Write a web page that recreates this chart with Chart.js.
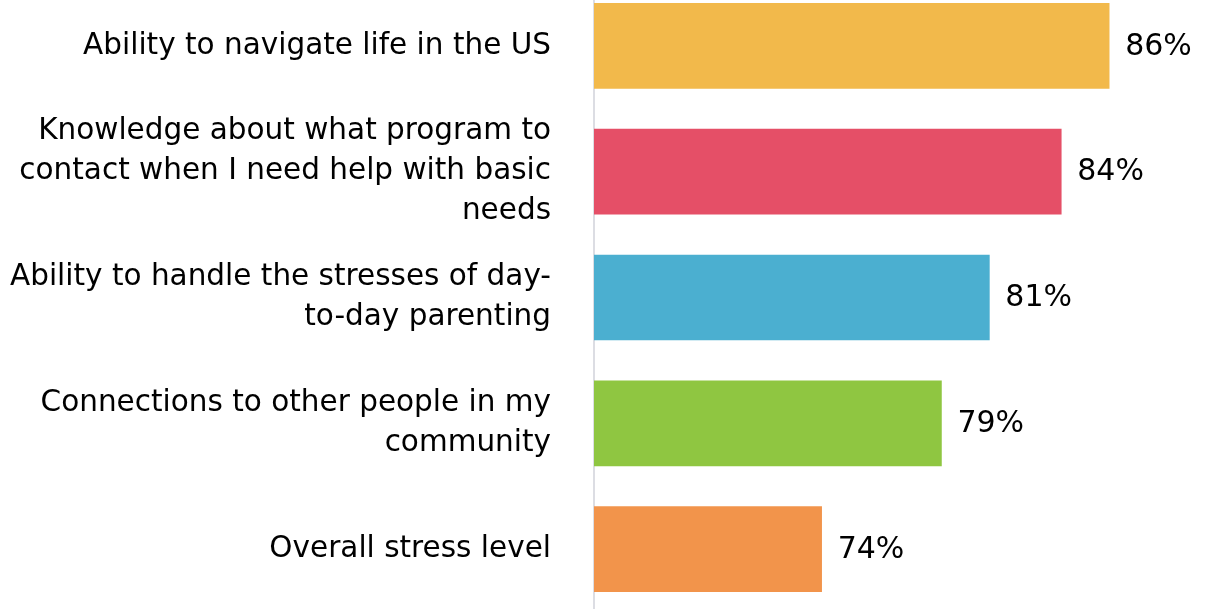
<!DOCTYPE html>
<html>
<head>
<meta charset="utf-8">
<script src="https://cdn.jsdelivr.net/npm/chart.js@4"></script>
<style>
  html, body { margin: 0; padding: 0; background: #fff; overflow: hidden; }
  #wrap { position: relative; width: 1205px; height: 629px; margin-top: -17px; }
</style>
</head>
<body>
<div id="wrap"><canvas id="myChart"></canvas></div>
<script>
// chart data
let categories = [
    ['Ability to navigate life in the US'],
    ['Knowledge about what program to', 'contact when I need help with basic', 'needs'],
    ['Ability to handle the stresses of day-', 'to-day parenting'],
    ['Connections to other people in my', 'community'],
    ['Overall stress level']
];
let percentValues = [86, 84, 81, 79, 74];
let barColors = ['#F2B94B', '#E54F67', '#4BAFD0', '#8FC641', '#F2944B'];

let labelFont = '"DejaVu Sans", sans-serif';

// draws "86%" to the right of each bar
let valueLabels = {
    id: 'valueLabels',
    afterDatasetsDraw(chart) {
        let ctx = chart.ctx;
        let meta = chart.getDatasetMeta(0);
        ctx.save();
        ctx.font = '30px ' + labelFont;
        ctx.fillStyle = '#000';
        ctx.textAlign = 'left';
        ctx.textBaseline = 'middle';
        meta.data.forEach(function (bar, i) {
            ctx.fillText(percentValues[i] + '%', bar.x + 16, bar.y + 1);
        });
        ctx.restore();
    }
};

let ctx = document.getElementById('myChart').getContext('2d');
let myChart = new Chart(ctx, {
    type: 'bar',
    data: {
        labels: categories,
        datasets: [{
            data: percentValues,
            backgroundColor: barColors,
            borderWidth: 0,
            barThickness: 85
        }]
    },
    options: {
        indexAxis: 'y',
        responsive: true,
        maintainAspectRatio: false,
        animation: false,
        layout: { padding: 0 },
        plugins: {
            legend: { display: false },
            tooltip: { enabled: false }
        },
        scales: {
            x: {
                display: false,
                min: 64.5,
                max: 90
            },
            y: {
                grid: { display: false, drawTicks: false },
                border: { display: true, color: '#dcdde3', width: 2 },
                ticks: {
                    color: '#000',
                    padding: 43,
                    font: { family: labelFont, size: 29.5, lineHeight: 1.36 }
                },
                afterFit: function (scale) {
                    scale.width = 594;
                    scale.paddingTop = 0;
                    scale.paddingBottom = 0;
                }
            }
        }
    },
    plugins: [valueLabels]
});
</script>
</body>
</html>
